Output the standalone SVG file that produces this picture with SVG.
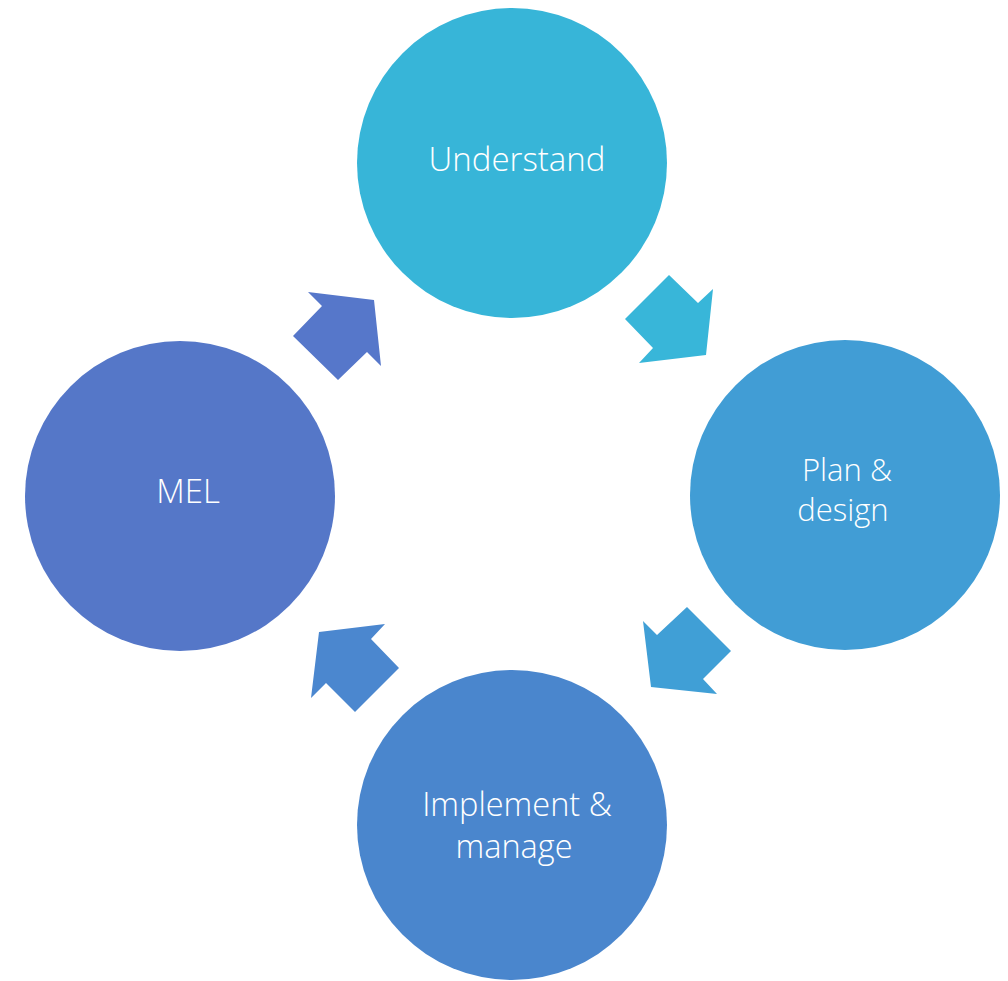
<svg xmlns="http://www.w3.org/2000/svg" width="1008" height="981" viewBox="0 0 1008 981">
<style>
.lbl{font-family:"Open Sans","Liberation Sans",sans-serif;font-weight:300;fill:#ffffff;text-anchor:middle}
</style>
<rect width="1008" height="981" fill="#ffffff"/>
<g id="connectors">
<polygon points="669,275 698,303 713,289 706,355 639,363 653,348 625,319" fill="#38B6D9"/>
<polygon points="687,607 731,651 703,679 717,694 651,687 643,621 657,635" fill="#409FD6"/>
<polygon points="385,624 371,639 399,668 355,712 326,683 311,698 319,632" fill="#4B87CF"/>
<polygon points="308,292 322,306 293,336 338,380 367,352 381,366 374,300" fill="#5677CA"/>
</g>
<g id="understand">
<circle cx="512" cy="163" r="155" fill="#37B5D8"/>
<text class="lbl" x="517" y="171" font-size="33">Understand</text>
</g>
<g id="plan">
<circle cx="845" cy="495" r="155" fill="#419DD5"/>
<text class="lbl" x="847" y="481" font-size="31">Plan &amp;</text>
<text class="lbl" x="843" y="521" font-size="31">design</text>
</g>
<g id="implement">
<circle cx="512" cy="825" r="155" fill="#4A86CD"/>
<text class="lbl" x="517" y="816" font-size="32.5">Implement &amp;</text>
<text class="lbl" x="514" y="858" font-size="32.5">manage</text>
</g>
<g id="mel">
<circle cx="180" cy="496" r="155" fill="#5577C8"/>
<text class="lbl" x="188" y="503" font-size="33">MEL</text>
</g>
</svg>
